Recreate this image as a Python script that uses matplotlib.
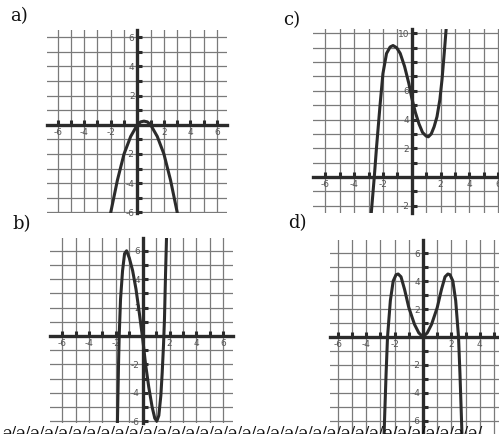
import matplotlib.pyplot as plt
from matplotlib.ticker import FixedLocator

plt.rcParams['axes.unicode_minus'] = False

# curve readings, panel a
a_x = [-2.1, -2.0, -1.5, -1.0, -0.5, 0.0, 0.25, 0.5, 0.75, 1.0, 1.5, 2.0, 2.5, 3.0, 3.1]
a_y = [-6.5, -6.0, -3.8, -2.0, -0.8, 0.0, 0.2, 0.25, 0.2, 0.0, -0.8, -2.0, -3.8, -6.0, -6.5]

# panel b
b_x = [-1.9, -1.85, -1.8, -1.75, -1.65, -1.5, -1.35, -1.2, -1.0, -0.75, -0.5, -0.25, 0.0,
       0.2, 0.45, 0.7, 0.9, 1.05, 1.2, 1.35, 1.45, 1.55, 1.62, 1.7, 1.78]
b_y = [-7.0, -4.5, -2.0, 0.0, 2.6, 4.6, 5.8, 6.0, 5.5, 4.6, 3.3, 1.6, -0.2,
       -1.9, -3.6, -5.0, -5.8, -6.0, -5.6, -4.2, -2.6, -0.6, 1.2, 4.4, 7.2]

# panel c
c_x = [-2.85, -2.6, -2.45, -2.2, -2.0, -1.75, -1.5, -1.3, -1.05, -0.8, -0.5, -0.2, 0.0,
       0.25, 0.5, 0.75, 1.0, 1.15, 1.35, 1.55, 1.75, 1.95, 2.1, 2.25, 2.4]
c_y = [-3.0, 0.0, 2.0, 5.0, 7.2, 8.6, 9.05, 9.15, 9.0, 8.6, 7.7, 6.5, 5.5,
       4.5, 3.7, 3.1, 2.85, 2.8, 3.0, 3.5, 4.2, 5.4, 6.8, 8.6, 10.5]

# panel d
d_x = [-2.75, -2.68, -2.6, -2.5, -2.3, -2.1, -1.9, -1.75, -1.55, -1.3, -1.0, -0.6, -0.3, 0.0,
       0.3, 0.6, 1.0, 1.3, 1.55, 1.75, 1.9, 2.1, 2.3, 2.5, 2.6, 2.68, 2.75]
d_y = [-7.2, -5.0, -2.6, 0.0, 2.6, 4.0, 4.45, 4.5, 4.3, 3.4, 2.1, 0.9, 0.3, 0.0,
       0.3, 0.9, 2.1, 3.4, 4.3, 4.5, 4.45, 4.0, 2.6, 0.0, -2.6, -5.0, -7.2]

a_xlabels = [-6, -4, -2, 2, 4, 6]
a_ylabels = [-6, -4, -2, 2, 4, 6]
b_xlabels = [-6, -4, -2, 2, 4, 6]
b_ylabels = [-6, -4, -2, 2, 4, 6]
c_xlabels = [-6, -4, -2, 2, 4, 6]
c_ylabels = [-2, 2, 4, 6, 10]
d_xlabels = [-6, -4, -2, 2, 4]
d_ylabels = [-6, -4, -2, 2, 4, 6]

W, H = 499, 434
fig = plt.figure(figsize=(W / 100, H / 100), dpi=100)

INK = '#2b2b2b'


def panel(px, xs, ys, xlim, ylim, xlab, ylab):
    """px - (left, top, right, bottom) in pixels"""
    l, t, r, b = px
    ax = fig.add_axes([l / W, 1 - b / H, (r - l) / W, (b - t) / H])
    ax.set_xlim(xlim)
    ax.set_ylim(ylim)
    for s in ['top', 'right']:
        ax.spines[s].set_visible(False)
    for s in ['left', 'bottom']:
        ax.spines[s].set_position('zero')
        ax.spines[s].set_linewidth(2.4)
        ax.spines[s].set_color(INK)
        ax.spines[s].set_zorder(3)
    xint = [i for i in range(int(xlim[0]) - 1, int(xlim[1]) + 2) if xlim[0] <= i <= xlim[1] and i != 0]
    yint = [i for i in range(int(ylim[0]) - 1, int(ylim[1]) + 2) if ylim[0] <= i <= ylim[1] and i != 0]
    ax.xaxis.set_major_locator(FixedLocator(xlab))
    ax.xaxis.set_minor_locator(FixedLocator([i for i in xint if i not in xlab]))
    ax.yaxis.set_major_locator(FixedLocator(ylab))
    ax.yaxis.set_minor_locator(FixedLocator([i for i in yint if i not in ylab]))
    ax.set_xticklabels([str(v) for v in xlab])
    ax.set_yticklabels([str(v) for v in ylab])
    ax.tick_params(which='both', direction='in', length=3.5, width=2.2, color=INK,
                   labelsize=6.5, labelcolor='#555555', pad=2)
    ax.grid(which='both', color='#7a7a7a', lw=0.9)
    ax.set_axisbelow(True)
    ax.patch.set_alpha(0)
    ax.plot(xs, ys, color=INK, lw=2.2, zorder=4, solid_capstyle='butt')
    return ax


panel((47, 30, 227, 213), a_x, a_y, (-6.8, 6.75), (-6.05, 6.5), a_xlabels, a_ylabels)
panel((313, 29, 499, 213), c_x, c_y, (-6.85, 6.05), (-2.5, 10.3), c_xlabels, c_ylabels)
panel((50, 238, 233, 423), b_x, b_y, (-6.9, 6.72), (-6.13, 6.9), b_xlabels, b_ylabels)
panel((330, 240, 499, 434), d_x, d_y, (-6.55, 5.35), (-6.93, 6.93), d_xlabels, d_ylabels)

lab = dict(fontsize=13, family='DejaVu Serif', va='center', ha='left', color='#111111')
fig.text(10 / W, 1 - 16 / H, 'a)', **lab)
fig.text(283 / W, 1 - 20 / H, 'c)', **lab)
fig.text(12 / W, 1 - 224 / H, 'b)', **lab)
fig.text(288 / W, 1 - 223 / H, 'd)', **lab)

# cut-off line of text along the bottom edge
fig.text(2 / W, 8 / H, 'ə/' * 34, fontsize=11, family='DejaVu Serif', va='top', ha='left',
         color='#111111')

fig.savefig('out.png', dpi=100)
